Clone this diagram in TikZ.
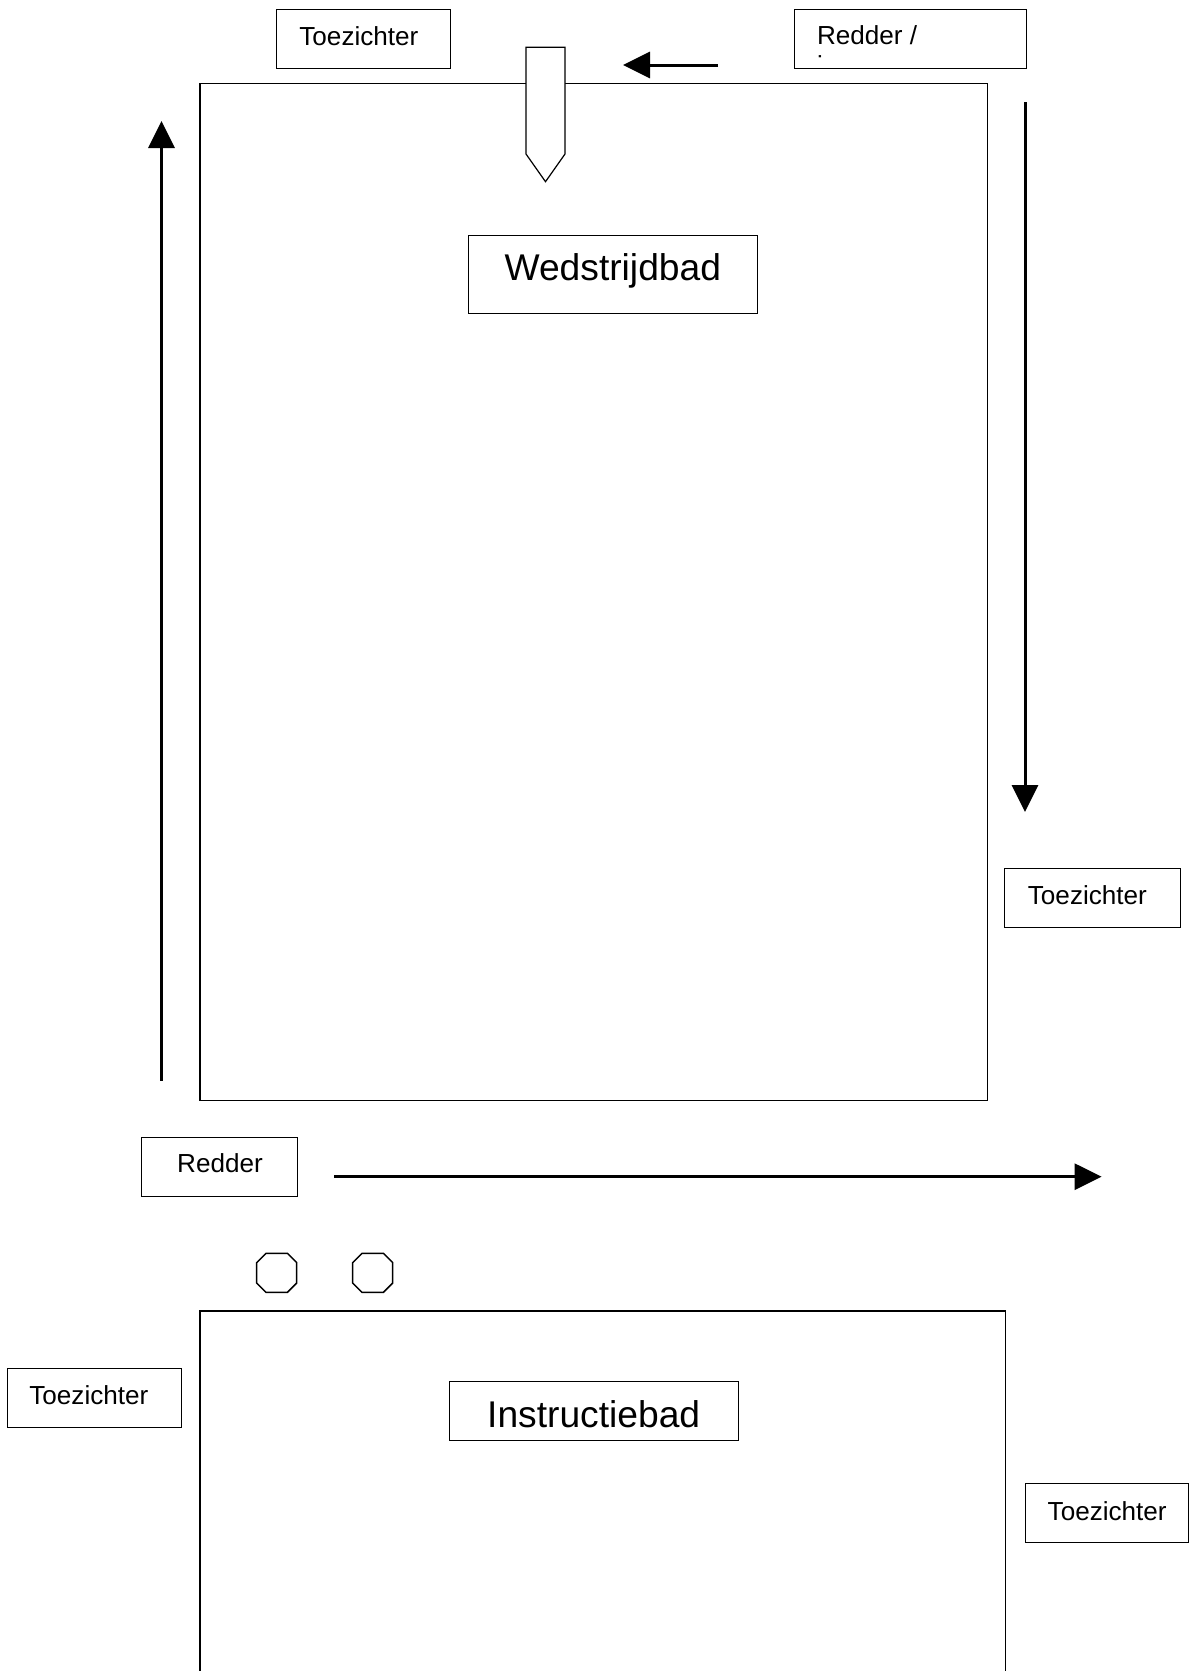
\documentclass[tikz,border=0pt]{standalone}
\usepackage{fontspec}
\setmainfont{Liberation Sans}
\usetikzlibrary{arrows.meta,fit}
\begin{document}
\begin{tikzpicture}[x=0.5pt,y=-0.5pt,
  box/.style={draw, line width=0.5pt, inner sep=0pt},
  pool/.style={draw, line width=0.75pt, inner sep=0pt},
  lbl/.style={inner sep=0pt, font=\fontsize{13.05pt}{15pt}\selectfont},
  biglbl/.style={inner sep=0pt, font=\fontsize{18.6pt}{21pt}\selectfont},
  arr/.style={line width=1.5pt, -{Triangle[length=13.5pt,width=13pt]}},
  penshape/.style={draw, line width=0.6pt, fill=white, line join=miter}]
\useasboundingbox (0,0) rectangle (1189,1671);

% Wedstrijdbad pool
\node[pool, fit={(200,83.3) (987.3,1100.5)}] (wb) {};
% starting block / pen shape
\draw[penshape] (526,47.3) -- (565,47.3) -- (565,154) -- (545.5,181.7) -- (526,154) -- cycle;

% Top boxes
\node[box, fit={(276.3,9.3) (450.7,68.3)}] (tzA) {};
\node[lbl, anchor=base west] (tzAt) at (299,45) {Toezichter};

\node[box, fit={(794.3,9.3) (1026.7,68.3)}] (rdA) {};
\node[lbl, anchor=base west] (rdAt) at (816.7,44.3) {Redder /};
\begin{scope}
  \clip (794.3,9.3) rectangle (1026.7,50) (810,50) rectangle (826,58.5);
  \node[lbl, anchor=base west] (rdAt2) at (816.7,74.3) {instructeur};
\end{scope}

% Wedstrijdbad label
\node[box, fit={(468.3,235.3) (757.3,313.3)}] (wbl) {};
\node[biglbl, anchor=base] (wblt) at (612.8,280) {Wedstrijdbad};

% Right Toezichter (top)
\node[box, fit={(1004.7,868.3) (1180.5,927)}] (tzB) {};
\node[lbl, anchor=base west] (tzBt) at (1027.5,904.3) {Toezichter};

% Redder box
\node[box, fit={(141.3,1137.3) (297.3,1196)}] (rdB) {};
\node[lbl, anchor=base] (rdBt) at (220,1172.7) {Redder};

% Arrows
\coordinate (a1s) at (718,65);
\coordinate (a1e) at (623,65);
\draw[arr] (a1s) -- (a1e);
\coordinate (a2s) at (1025,102);
\coordinate (a2e) at (1025,812);
\draw[arr] (a2s) -- (a2e);
\coordinate (a3s) at (161.5,1080.7);
\coordinate (a3e) at (161.5,121);
\draw[arr] (a3s) -- (a3e);
\coordinate (a4s) at (334.3,1176.7);
\coordinate (a4e) at (1101.6,1176.7);
\draw[arr] (a4s) -- (a4e);

% Octagons
\foreach \ox in {256.7,352.7}{
  \draw[line width=0.75pt] (\ox+9.3,1253.3) -- (\ox+30.7,1253.3) -- (\ox+40,1262.6)
     -- (\ox+40,1283) -- (\ox+30.7,1292.3) -- (\ox+9.3,1292.3) -- (\ox,1283)
     -- (\ox,1262.6) -- cycle;
}

% Instructiebad pool (bottom cut off)
\draw[line width=0.75pt] (200,1680) -- (200,1311) -- (1005.7,1311) -- (1005.7,1680);

% Instructiebad label
\node[box, fit={(449.3,1381.5) (738.2,1440)}] (ibl) {};
\node[biglbl, anchor=base] (iblt) at (593.7,1427) {Instructiebad};

% Left Toezichter (bottom)
\node[box, fit={(7.3,1368.3) (181.3,1427.3)}] (tzC) {};
\node[lbl, anchor=base west] (tzCt) at (29,1404) {Toezichter};

% Right Toezichter (bottom)
\node[box, fit={(1025.7,1483.3) (1188.3,1542)}] (tzD) {};
\node[lbl, anchor=base west] (tzDt) at (1047.3,1520) {Toezichter};
\end{tikzpicture}
\end{document}
